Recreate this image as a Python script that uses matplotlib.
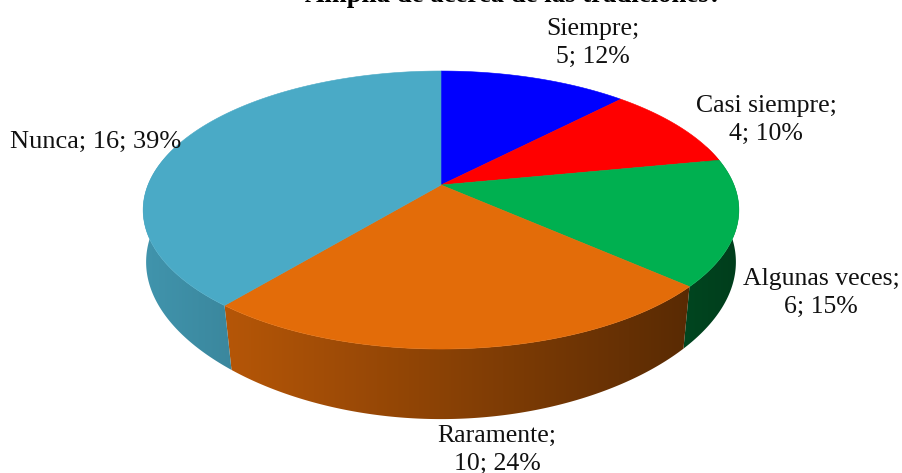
import numpy as np
import matplotlib
matplotlib.use('Agg')
import matplotlib.pyplot as plt
from matplotlib.patches import Polygon

categories = ['Siempre', 'Casi siempre', 'Algunas veces', 'Raramente', 'Nunca']
values = [5, 4, 6, 10, 16]
percents = [12, 10, 15, 24, 39]
colors = ['#0000FF', '#FF0000', '#00B050', '#E36C09', '#4AAAC6']
title = 'Amplía de acerca de las tradiciones?'

# pie geometry in pixels
cx, cy = 441, 210
rx, ry = 298, 139
apex = 25
persp = 0.18


def project(theta):
    # circle point -> perspective ellipse, relative to the ellipse centre
    u, v = np.sin(theta), np.cos(theta)
    w = 1 + persp * v
    return 293 * u / w, (ry * v + apex) / w


def to_bottom(x, y):
    # lower rim of the wall, narrows a bit towards the front
    return x * (0.99 - 0.022 * (y / 95) ** 2), 1.13 * y - 52


plt.rcParams['font.family'] = ['Liberation Serif', 'DejaVu Serif']
fig = plt.figure(figsize=(9.03, 4.73), dpi=100)
ax = fig.add_axes([0, 0, 1, 1])
ax.axis('off')

edges = np.cumsum([0] + values) / sum(values) * 2 * np.pi

# brightness of the side wall falls from left to right
ramp = np.linspace(0.91, 0.33, 660)[None, :, None]

# side walls first, top faces go over them
for i, color in enumerate(colors):
    a = np.linspace(edges[i], edges[i + 1], 300)
    a = a[np.cos(a) < 0.3]
    if len(a) < 2:
        continue
    xs, ys = project(a)
    bxs, bys = to_bottom(xs, ys)
    pts = np.c_[np.r_[cx + xs, cx + bxs[::-1]], np.r_[cy - ys, cy - bys[::-1]]]
    patch = Polygon(pts, closed=True, transform=ax.transData, fc='none', ec='none')
    ax.add_patch(patch)
    rgb = np.array(matplotlib.colors.to_rgb(color))[None, None, :]
    img = ax.imshow(ramp * rgb, extent=(100, 760, 473, 0), aspect='auto', zorder=1)
    img.set_clip_path(patch)

# top faces
for i, color in enumerate(colors):
    angles = np.linspace(edges[i], edges[i + 1], 200)
    xs, ys = project(angles)
    ax.fill(np.r_[cx, cx + xs], np.r_[cy - apex, cy - ys], color=color, lw=0.4, zorder=2)

ax.set_xlim(0, 903)
ax.set_ylim(473, 0)

# labels
label_pos = [(593, 43), (766, 120), (821, 293), (497, 450)]
for i in range(4):
    ax.text(label_pos[i][0], label_pos[i][1],
            f'{categories[i]};\n{values[i]}; {percents[i]}%',
            ha='center', va='center', fontsize=18.5, linespacing=1.32,
            color='#111111', zorder=3)
ax.text(96, 142, f'{categories[4]}; {values[4]}; {percents[4]}%',
        ha='center', va='center', fontsize=19, color='#111111', zorder=3)

# title is cut by the top edge of the picture
ax.text(514, 2, title, ha='center', va='baseline', fontsize=19.3,
        fontweight='bold', color='black', zorder=3)

fig.savefig('out.png', dpi=100)
